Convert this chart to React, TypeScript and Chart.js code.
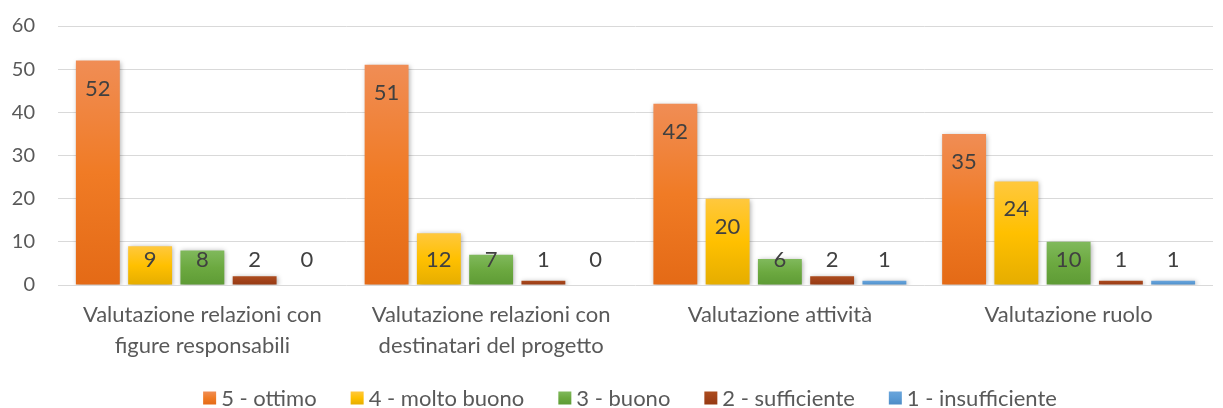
import React, { useEffect, useRef } from "react";
import { Chart, registerables } from "chart.js";
Chart.register(...registerables);

const categories: string[][] = [
  ["Valutazione relazioni con", "figure responsabili"],
  ["Valutazione relazioni con", "destinatari del progetto"],
  ["Valutazione attività"],
  ["Valutazione ruolo"],
];
const seriesNames = ["5 - ottimo", "4 - molto buono", "3 - buono", "2 - sufficiente", "1 - insufficiente"];
const ottimo = [52, 51, 42, 35];
const moltoBuono = [9, 12, 20, 24];
const buono = [8, 7, 6, 10];
const sufficiente = [2, 1, 2, 1];
const insufficiente = [0, 0, 1, 1];
const yMin = 0;
const yMax = 60;
const yStep = 10;

const seriesColors: string[][] = [
  ["#F08D55", "#F07B25", "#E46A16"],
  ["#FFC83E", "#FFC000", "#E5AD00"],
  ["#80B95C", "#6CA940", "#5E9B35"],
  ["#AC4C1E", "#A1421A", "#963A12"],
  ["#6AA5DB", "#5B9BD5", "#4E8CC5"],
];

const FONT = "Lato";

function makeGradient(ctx: CanvasRenderingContext2D, top: number, bottom: number, c: string[]) {
  const g = ctx.createLinearGradient(0, top, 0, bottom);
  g.addColorStop(0, c[0]);
  g.addColorStop(0.5, c[1]);
  g.addColorStop(1, c[2]);
  return g;
}

const shadowPlugin = {
  id: "barShadow",
  beforeDatasetsDraw(chart: any) {
    const ctx = chart.ctx;
    ctx.save();
    ctx.shadowColor = "rgba(0,0,0,0.35)";
    ctx.shadowBlur = 5;
    ctx.shadowOffsetX = 1;
    ctx.shadowOffsetY = 1;
  },
  afterDatasetsDraw(chart: any) {
    chart.ctx.restore();
  },
};

const labelPlugin = {
  id: "valueLabels",
  afterDraw(chart: any) {
    const ctx = chart.ctx;
    const base = chart.scales.y.getPixelForValue(0);
    ctx.save();
    ctx.font = `22px ${FONT}`;
    ctx.fillStyle = "#404040";
    ctx.textAlign = "center";
    ctx.textBaseline = "middle";
    chart.data.datasets.forEach((ds: any, i: number) => {
      const meta = chart.getDatasetMeta(i);
      meta.data.forEach((el: any, j: number) => {
        const y = Math.min(el.y + 28, base - 25);
        ctx.fillText(String(ds.data[j]), el.x, y);
      });
    });
    ctx.restore();
  },
};

const legendPlugin = {
  id: "customLegend",
  afterDraw(chart: any) {
    const ctx = chart.ctx;
    ctx.save();
    ctx.font = `22px ${FONT}`;
    ctx.textBaseline = "middle";
    ctx.textAlign = "left";
    const box = 13;
    const gapText = 5;
    const gapItem = 34;
    const widths = seriesNames.map((n) => ctx.measureText(n).width);
    const total = widths.reduce((a, w) => a + box + gapText + w, 0) + gapItem * (seriesNames.length - 1);
    let x = 630 - total / 2;
    const cy = 398;
    seriesNames.forEach((n, i) => {
      ctx.fillStyle = makeGradient(ctx, cy - box / 2, cy + box / 2, seriesColors[i]);
      ctx.fillRect(x, cy - box / 2, box, box);
      ctx.fillStyle = "#595959";
      ctx.fillText(n, x + box + gapText, cy + 1);
      x += box + gapText + widths[i] + gapItem;
    });
    ctx.restore();
  },
};

export default function App() {
  const ref = useRef<HTMLCanvasElement | null>(null);
  useEffect(() => {
    if (!ref.current) return;
    const seriesData = [ottimo, moltoBuono, buono, sufficiente, insufficiente];
    const chart = new Chart(ref.current, {
      type: "bar",
      data: {
        labels: categories,
        datasets: seriesNames.map((name, i) => ({
          label: name,
          data: seriesData[i],
          backgroundColor: (c: any) => {
            const ch = c.chart;
            const col = seriesColors[i];
            if (!ch.chartArea || c.type !== "data") return col[1];
            const top = ch.scales.y.getPixelForValue(c.raw);
            const bottom = ch.scales.y.getPixelForValue(0);
            if (bottom - top < 2) return col[1];
            return makeGradient(ch.ctx, top, bottom, col);
          },
          borderWidth: 0,
          categoryPercentage: 0.905,
          barPercentage: 0.84,
        })),
      },
      options: {
        responsive: false,
        animation: false,
        maintainAspectRatio: false,
        layout: { padding: { top: 26, right: 10, left: 0, bottom: 0 } },
        plugins: {
          legend: { display: false },
          tooltip: { enabled: false },
        },
        scales: {
          y: {
            min: yMin,
            max: yMax,
            ticks: {
              stepSize: yStep,
              color: "#595959",
              font: { family: FONT, size: 20 },
              padding: 23,
            },
            grid: { color: "#D9D9D9", lineWidth: 1, drawTicks: false },
            border: { display: false },
            afterFit: (s: any) => {
              s.width = 58;
              s.paddingTop = 0;
              s.paddingBottom = 0;
            },
          },
          x: {
            ticks: {
              color: "#595959",
              font: { family: FONT, size: 22, lineHeight: 1.4 },
              padding: 15,
              maxRotation: 0,
              autoSkip: false,
            },
            grid: { display: false, drawTicks: false },
            border: { display: false },
            afterFit: (s: any) => {
              s.height = 408 - 285;
            },
          },
        },
      },
      plugins: [shadowPlugin, labelPlugin, legendPlugin],
    });
    return () => chart.destroy();
  }, []);
  return (
    <div style={{ position: "absolute", left: 0, top: 0, width: 1223, height: 408, background: "#fff" }}>
      <canvas ref={ref} width={1223} height={408} style={{ width: 1223, height: 408 }} />
    </div>
  );
}
